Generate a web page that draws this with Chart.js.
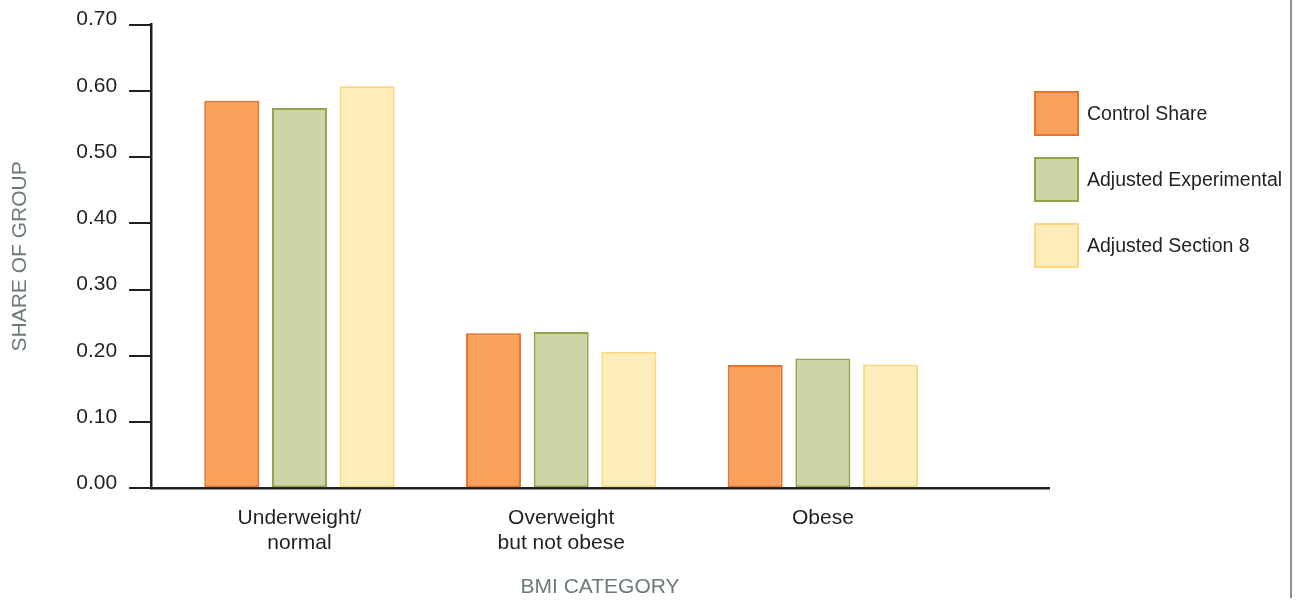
<!DOCTYPE html>
<html>
<head>
<meta charset="utf-8">
<title>Share of group by BMI category</title>
<script src="https://cdn.jsdelivr.net/npm/chart.js@4/dist/chart.umd.min.js"></script>
<style>
  html, body { margin: 0; padding: 0; background: #ffffff; }
  #wrap { position: relative; width: 1298px; height: 606px; }
</style>
</head>
<body>
<div id="wrap"><canvas id="bmiChart" width="1298" height="606"></canvas></div>
<script>
// BMI categories (multi-line tick labels)
const categories = [
  ['Underweight/', 'normal'],
  ['Overweight', 'but not obese'],
  ['Obese']
];

// Share of each group in each BMI category
const controlShare = [0.585, 0.234, 0.186];
const adjustedExperimental = [0.574, 0.236, 0.196];
const adjustedSection8 = [0.607, 0.206, 0.187];

const seriesNames = ['Control Share', 'Adjusted Experimental', 'Adjusted Section 8'];

// Y axis tick values
const yTickValues = [0, 0.1, 0.2, 0.3, 0.4, 0.5, 0.6, 0.7];

const INK = '#231f20';
const TITLE_INK = '#6b7d73';
const FONT = "'Liberation Sans', Arial, Helvetica, sans-serif";

const toPoints = vals => vals.map((v, i) => ({ x: i, y: v }));

const palette = [
  { fill: '#f8a05c', edge: '#e8732a' },
  { fill: '#cbd5a7', edge: '#93a447' },
  { fill: '#feedba', edge: '#fdd57b' }
];

const seriesValues = [controlShare, adjustedExperimental, adjustedSection8];

const datasets = seriesValues.map((vals, i) => ({
  label: seriesNames[i],
  data: toPoints(vals),
  backgroundColor: palette[i].fill,
  borderColor: palette[i].edge,
  borderWidth: 2,
  borderSkipped: false,
  categoryPercentage: 0.776,
  barPercentage: 0.8125
}));

// Key drawn to the right of the plot, plus the thin page rule at the far right
const sideKey = {
  id: 'sideKey',
  afterDraw(chart, args, opts) {
    const ctx = chart.ctx;
    ctx.save();
    chart.data.datasets.forEach((ds, i) => {
      const x = opts.x;
      const y = opts.y + i * opts.step;
      const s = opts.box;
      ctx.fillStyle = ds.backgroundColor;
      ctx.fillRect(x, y, s, s);
      ctx.strokeStyle = ds.borderColor;
      ctx.lineWidth = 2;
      ctx.strokeRect(x + 1, y + 1, s - 2, s - 2);
      ctx.fillStyle = INK;
      ctx.font = opts.fontSize + 'px ' + FONT;
      ctx.textBaseline = 'middle';
      ctx.textAlign = 'left';
      ctx.fillText(ds.label, x + s + opts.gap, y + s / 2 + 1);
    });
    ctx.strokeStyle = '#8e8e8e';
    ctx.lineWidth = 2;
    ctx.beginPath();
    ctx.moveTo(opts.ruleX, 0);
    ctx.lineTo(opts.ruleX, 598);
    ctx.stroke();
    ctx.restore();
  }
};

new Chart(document.getElementById('bmiChart'), {
  type: 'bar',
  data: { datasets },
  plugins: [sideKey],
  options: {
    responsive: false,
    animation: false,
    layout: { padding: { top: 24, right: 249, bottom: 0, left: 0 } },
    plugins: {
      legend: { display: false },
      tooltip: { enabled: false },
      sideKey: { x: 1034, y: 91, step: 66, box: 45, gap: 8, fontSize: 19.5, ruleX: 1291 }
    },
    scales: {
      x: {
        type: 'linear',
        offset: false,
        min: -0.567,
        max: 2.864,
        afterBuildTicks: scale => {
          scale.ticks = categories.map((_, i) => ({ value: i }));
        },
        grid: { display: false, offset: false },
        border: { display: true, color: INK, width: 2.5 },
        ticks: {
          callback: value => categories[value] || '',
          color: INK,
          font: { family: FONT, size: 21, lineHeight: '25px' },
          padding: 9.5,
          maxRotation: 0,
          autoSkip: false
        },
        title: {
          display: true,
          text: 'BMI CATEGORY',
          color: TITLE_INK,
          font: { family: FONT, size: 21 },
          padding: { top: 9, bottom: 6.5 }
        }
      },
      y: {
        min: 0,
        max: 0.7,
        afterBuildTicks: scale => {
          scale.ticks = yTickValues.map(v => ({ value: v }));
        },
        grid: {
          display: true,
          drawOnChartArea: false,
          drawTicks: true,
          tickLength: 22,
          color: INK,
          lineWidth: 2
        },
        border: { display: true, color: INK, width: 2.5 },
        ticks: {
          callback: value => value.toFixed(2),
          color: INK,
          font: { family: FONT, size: 21 },
          padding: 12,
          labelOffset: -5
        },
        title: {
          display: true,
          text: 'SHARE OF GROUP',
          color: TITLE_INK,
          font: { family: FONT, size: 21 },
          padding: { top: 8, bottom: 31 }
        }
      }
    }
  }
});
</script>
</body>
</html>
